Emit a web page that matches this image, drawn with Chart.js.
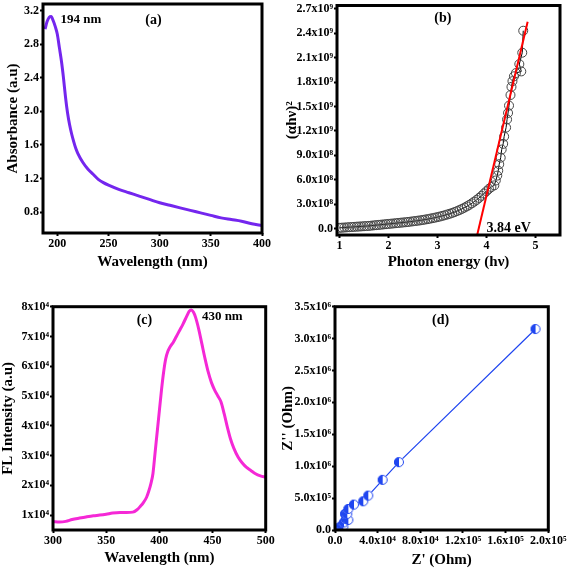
<!DOCTYPE html>
<html>
<head>
<meta charset="utf-8">
<script src="https://cdn.jsdelivr.net/npm/chart.js@4"></script>
<style>
html, body { margin: 0; padding: 0; background: #fff; overflow: hidden; width: 567px; height: 568px; }
.panel { position: absolute; }
</style>
</head>
<body>
<div class="panel" style="left:0px;top:0px"><canvas id="chartA" width="280" height="271"></canvas></div>
<div class="panel" style="left:283px;top:0px"><canvas id="chartB" width="284" height="271"></canvas></div>
<div class="panel" style="left:-1px;top:285px"><canvas id="chartC" width="281" height="282"></canvas></div>
<div class="panel" style="left:279px;top:285px"><canvas id="chartD" width="300" height="284"></canvas></div>
<script>
// ---- (a) UV-vis absorbance ----
const absWavelength = [188, 190, 192, 194, 196, 198, 200, 202, 204, 206, 208, 210, 212, 214, 216, 218, 220, 225, 230, 235, 240, 245, 250, 260, 270, 280, 290, 300, 310, 320, 330, 340, 350, 360, 370, 380, 390, 400];
const absValue = [2.98, 3.07, 3.12, 3.13, 3.08, 3.01, 2.92, 2.76, 2.60, 2.40, 2.17, 1.98, 1.84, 1.73, 1.64, 1.56, 1.50, 1.39, 1.31, 1.25, 1.19, 1.15, 1.12, 1.07, 1.03, 0.99, 0.95, 0.91, 0.88, 0.85, 0.82, 0.79, 0.76, 0.73, 0.71, 0.69, 0.66, 0.64];
const aXTicks = [200, 250, 300, 350, 400];
const aYTicks = [0.8, 1.2, 1.6, 2.0, 2.4, 2.8, 3.2];
const aYLabels = ['0.8', '1.2', '1.6', '2.0', '2.4', '2.8', '3.2'];

// ---- (b) Tauc plot ----
const taucEnergy = [1.00, 1.05, 1.10, 1.15, 1.20, 1.25, 1.30, 1.35, 1.40, 1.45, 1.50, 1.55, 1.60, 1.65, 1.70, 1.75, 1.80, 1.85, 1.90, 1.95,
  2.00, 2.05, 2.10, 2.15, 2.20, 2.25, 2.30, 2.35, 2.40, 2.45, 2.50, 2.55, 2.60, 2.65, 2.70, 2.75, 2.80, 2.85, 2.90, 2.95,
  3.00, 3.05, 3.10, 3.15, 3.20, 3.25, 3.30, 3.35, 3.40, 3.45, 3.50, 3.55, 3.60, 3.65, 3.70, 3.75, 3.80, 3.85, 3.90, 3.95,
  4.00, 4.05, 4.10, 4.16, 4.19, 4.22, 4.24, 4.26, 4.29, 4.31, 4.34, 4.36, 4.40, 4.42, 4.44, 4.46, 4.49, 4.51, 4.53, 4.56,
  4.60, 4.71, 4.67, 4.73, 4.75];
const taucValue = [0.008, 0.010, 0.012, 0.014, 0.016, 0.018, 0.020, 0.022, 0.024, 0.026, 0.028, 0.030, 0.032, 0.035, 0.038, 0.041, 0.044, 0.047, 0.050, 0.053,
  0.056, 0.059, 0.062, 0.065, 0.068, 0.071, 0.074, 0.077, 0.080, 0.084, 0.088, 0.092, 0.096, 0.100, 0.105, 0.110, 0.115, 0.121, 0.127, 0.133,
  0.140, 0.147, 0.155, 0.163, 0.172, 0.181, 0.191, 0.202, 0.214, 0.227, 0.241, 0.256, 0.272, 0.290, 0.309, 0.330, 0.352, 0.376, 0.402, 0.430,
  0.458, 0.487, 0.510, 0.53, 0.59, 0.65, 0.71, 0.79, 0.87, 0.97, 1.04, 1.13, 1.24, 1.34, 1.42, 1.51, 1.64, 1.74, 1.81, 1.87,
  1.91, 1.93, 2.02, 2.16, 2.43]; // x10^9
const fitEnergy = [3.81, 4.84];
const fitValue = [-0.08, 2.54]; // x10^9
const bXTicks = [1, 2, 3, 4, 5];
const bYTicks = [0, 0.3e9, 0.6e9, 0.9e9, 1.2e9, 1.5e9, 1.8e9, 2.1e9, 2.4e9, 2.7e9];
const bYLabels = ['0.0', '3.0x10⁸', '6.0x10⁸', '9.0x10⁸', '1.2x10⁹', '1.5x10⁹', '1.8x10⁹', '2.1x10⁹', '2.4x10⁹', '2.7x10⁹'];

// ---- (c) fluorescence ----
const flWavelength = [300, 306, 312, 318, 325, 331, 338, 344, 350, 356, 363, 369, 375, 379, 382, 385, 388, 390, 392, 394, 396, 398,
  400, 402, 404, 406, 408, 410, 413, 416, 419, 422, 426, 428, 430, 432, 434, 437, 440, 443, 446, 449, 452, 455, 458, 461,
  464, 467, 470, 474, 478, 482, 486, 490, 495, 500];
const flValue = [7800, 7700, 7900, 8500, 9000, 9400, 9800, 10000, 10300, 10700, 10900, 10900, 11000, 11800, 12900, 14200, 16000, 18000, 20500, 24000, 31000, 38000,
  45000, 52000, 58000, 62500, 65000, 66500, 68000, 70000, 72000, 74000, 77000, 78400, 78900, 78200, 76500, 72500, 67500, 62500, 58000, 54500, 52000, 50000, 48000, 44000,
  39500, 35500, 32500, 29500, 27500, 26000, 25000, 24000, 23200, 22800];
const cXTicks = [300, 350, 400, 450, 500];
const cYTicks = [10000, 20000, 30000, 40000, 50000, 60000, 70000, 80000];
const cYLabels = ['1x10⁴', '2x10⁴', '3x10⁴', '4x10⁴', '5x10⁴', '6x10⁴', '7x10⁴', '8x10⁴'];

// ---- (d) impedance ----
const zReal = [1200, 3100, 5000, 6300, 7800, 8400, 10300, 12500, 9400, 11500, 12500, 17800, 26500, 31200, 44700, 60000, 188000];
const zImag = [10000, 31000, 45000, 68000, 52000, 119000, 173000, 157000, 252000, 252000, 330000, 398000, 450000, 539000, 786000, 1063000, 3150000];
const dXTicks = [0, 40000, 80000, 120000, 160000, 200000];
const dXLabels = ['0.0', '4.0x10⁴', '8.0x10⁴', '1.2x10⁵', '1.6x10⁵', '2.0x10⁵'];
const dYTicks = [0, 0.5e6, 1.0e6, 1.5e6, 2.0e6, 2.5e6, 3.0e6, 3.5e6];
const dYLabels = ['0.0', '5.0x10⁵', '1.0x10⁶', '1.5x10⁶', '2.0x10⁶', '2.5x10⁶', '3.0x10⁶', '3.5x10⁶'];

const FONT = "'Liberation Serif', 'Times New Roman', serif";

// box round the plot area + text notes placed in data units
const framePlugin = {
    id: 'frame',
    afterDraw(chart, args, opts) {
        const { ctx, chartArea: a, scales } = chart;
        ctx.save();
        ctx.strokeStyle = '#000';
        ctx.lineWidth = 3;
        ctx.strokeRect(a.left, a.top, a.right - a.left, a.bottom - a.top);
        ctx.fillStyle = '#000';
        ctx.textBaseline = 'middle';
        (opts.notes || []).forEach(n => {
            ctx.font = 'bold ' + n.size + 'px ' + FONT;
            ctx.textAlign = n.align || 'center';
            ctx.fillText(n.text, scales.x.getPixelForValue(n.x), scales.y.getPixelForValue(n.y));
        });
        ctx.restore();
    }
};

function axis(o) {
    const labels = o.labels || o.ticks.map(String);
    return {
        type: 'linear', min: o.min, max: o.max,
        afterBuildTicks: s => { s.ticks = o.ticks.map(v => ({ value: v })); },
        afterFit: s => {
            if (o.isY) s.width = o.size; else s.height = o.size;
            s.paddingTop = 0; s.paddingBottom = 0; s.paddingLeft = 0; s.paddingRight = 0;
        },
        ticks: {
            color: '#000', padding: 1, autoSkip: false, maxRotation: 0,
            font: { family: FONT, size: 12, weight: 'bold' },
            callback: (v, i) => labels[i]
        },
        grid: { drawOnChartArea: false, drawTicks: true, tickLength: 3, tickWidth: 2, tickColor: '#000' },
        border: { display: false },
        title: {
            display: true, text: o.title, color: '#000',
            font: { family: FONT, size: 15, weight: 'bold' },
            padding: { top: o.titlePad || 0, bottom: 0 }
        }
    };
}

function baseOptions(pad, x, y, notes) {
    return {
        responsive: false, animation: false,
        layout: { padding: pad },
        plugins: { legend: { display: false }, tooltip: { enabled: false }, frame: { notes } },
        scales: { x: axis(x), y: axis(Object.assign({ isY: true }, y)) }
    };
}

function halfCircle(color) {
    const c = document.createElement('canvas');
    c.width = 12; c.height = 12;
    const g = c.getContext('2d');
    g.fillStyle = '#fff';
    g.beginPath(); g.arc(6, 6, 5, 0, Math.PI * 2); g.fill();
    g.fillStyle = color;
    g.beginPath(); g.arc(6, 6, 5, Math.PI / 2, Math.PI * 1.5); g.closePath(); g.fill();
    g.strokeStyle = color; g.lineWidth = 1;
    g.beginPath(); g.arc(6, 6, 4.5, 0, Math.PI * 2); g.stroke();
    return c;
}

const xy = (xs, ys, k) => xs.map((v, i) => ({ x: v, y: ys[i] * (k || 1) }));

new Chart(document.getElementById('chartA'), {
    type: 'scatter',
    data: { datasets: [{
        data: xy(absWavelength, absValue), showLine: true, pointRadius: 0,
        borderColor: '#7426ee', borderWidth: 3, cubicInterpolationMode: 'monotone'
    }] },
    options: baseOptions({ top: 4, right: 18, left: 0, bottom: 0 },
        { min: 186, max: 400, ticks: aXTicks, size: 38, title: 'Wavelength (nm)' },
        { min: 0.55, max: 3.28, ticks: aYTicks, labels: aYLabels, size: 43, title: 'Absorbance (a.u)', titlePad: 4 },
        [{ text: '194 nm', x: 203, y: 3.09, size: 13, align: 'left' }, { text: '(a)', x: 294, y: 3.09, size: 14 }]),
    plugins: [framePlugin]
});

new Chart(document.getElementById('chartB'), {
    type: 'scatter',
    data: { datasets: [
        { data: xy(fitEnergy, fitValue, 1e9), showLine: true, pointRadius: 0, borderColor: '#ff0000', borderWidth: 2 },
        { data: xy(taucEnergy, taucValue, 1e9), showLine: true, borderColor: '#000', borderWidth: 1,
          pointRadius: 4.5, pointBorderColor: '#444', pointBorderWidth: 1, pointBackgroundColor: 'rgba(255,255,255,0)' }
    ] },
    options: baseOptions({ top: 4, right: 7, left: 0, bottom: 0 },
        { min: 0.95, max: 5.5, ticks: bXTicks, size: 36, title: 'Photon energy (hν)' },
        { min: -0.08e9, max: 2.74e9, ticks: bYTicks, labels: bYLabels, size: 54, title: '(αhν)²' },
        [{ text: '(b)', x: 3.11, y: 2.58e9, size: 14 }, { text: '3.84 eV', x: 4.0, y: 0.0, size: 14, align: 'left' }]),
    plugins: [framePlugin]
});

new Chart(document.getElementById('chartC'), {
    type: 'scatter',
    data: { datasets: [{
        data: xy(flWavelength, flValue), showLine: true, pointRadius: 0,
        borderColor: '#f528d6', borderWidth: 3, cubicInterpolationMode: 'monotone'
    }] },
    options: baseOptions({ top: 21.7, right: 14.3, left: 0, bottom: 0 },
        { min: 300, max: 500, ticks: cXTicks, size: 37, title: 'Wavelength (nm)' },
        { min: 5000, max: 80000, ticks: cYTicks, labels: cYLabels, size: 54, title: 'FL Intensity (a.u)' },
        [{ text: '(c)', x: 386, y: 75500, size: 14 }, { text: '430 nm', x: 440, y: 76500, size: 13, align: 'left' }]),
    plugins: [framePlugin]
});

new Chart(document.getElementById('chartD'), {
    type: 'scatter',
    data: { datasets: [{
        data: xy(zReal, zImag), showLine: true, borderColor: '#2046f0', borderWidth: 1.2,
        pointStyle: halfCircle('#2046f0'), pointRadius: 5
    }] },
    options: baseOptions({ top: 21.7, right: 30.7, left: 0, bottom: 0 },
        { min: 0, max: 200000, ticks: dXTicks, labels: dXLabels, size: 39, title: "Z' (Ohm)" },
        { min: 0, max: 3.5e6, ticks: dYTicks, labels: dYLabels, size: 56, title: "Z'' (Ohm)" },
        [{ text: '(d)', x: 99000, y: 3.29e6, size: 14 }]),
    plugins: [framePlugin]
});
</script>
</body>
</html>
